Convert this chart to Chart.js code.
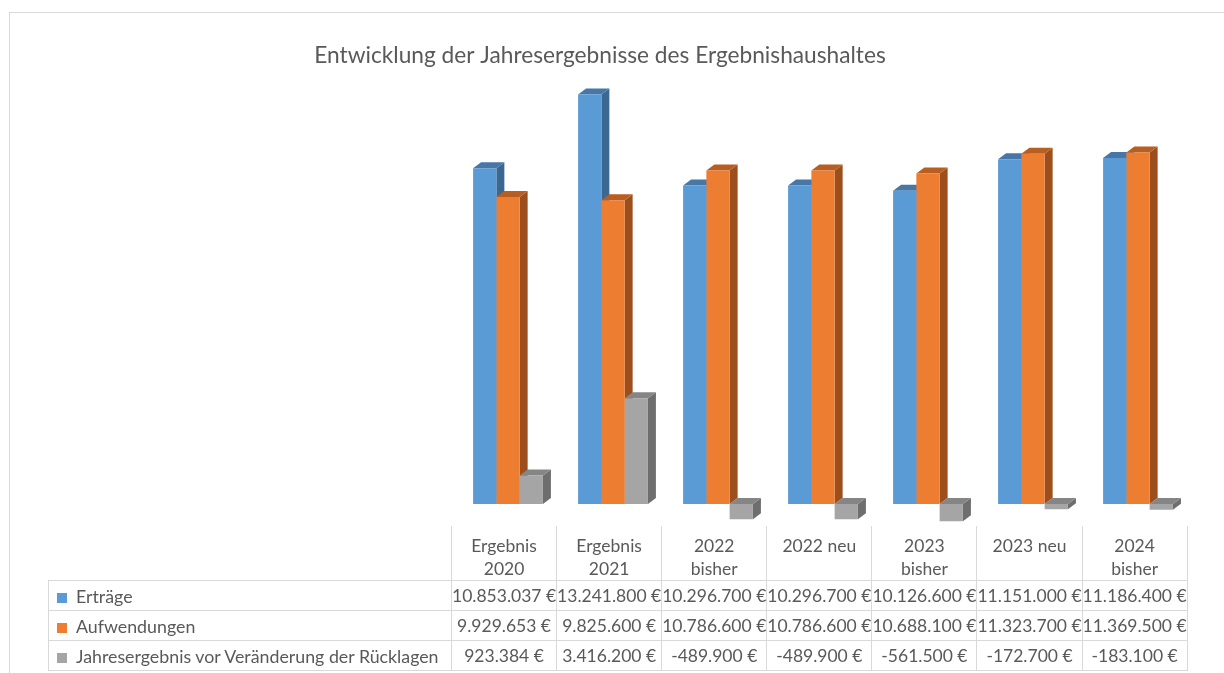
<!DOCTYPE html>
<html>
<head>
<meta charset="utf-8">
<script src="https://cdn.jsdelivr.net/npm/chart.js@4.4.1/dist/chart.umd.min.js"></script>
<style>
  body { margin: 0; background: #fff; }
  #wrap { position: relative; width: 1224px; height: 673px; overflow: hidden; background: #fff; }
  #frame { position: absolute; left: 9px; top: 12px; width: 1214px; height: 720px;
           border-top: 1px solid #d9d9d9; border-left: 1px solid #d9d9d9; }
  #chart { position: absolute; left: 0; top: 0; }
  #tbl { position: absolute; left: 48px; top: 526px; border-collapse: collapse; table-layout: fixed;
         font-family: Lato, "Open Sans", sans-serif; font-size: 17.5px; color: #595959; }
  #tbl td, #tbl th { border: 1px solid #d9d9d9; padding: 0; font-weight: normal; white-space: nowrap; }
  #tbl th { border-top: none; height: 54px; vertical-align: top; line-height: 23px; padding-top: 8px; box-sizing: border-box; }
  #tbl th.blank { border: none; border-right: 1px solid #d9d9d9; }
  #tbl td { height: 29px; }
  #tbl td .c { display: flex; justify-content: center; }
  #tbl td.lab { padding-left: 8px; font-size: 17.8px; }
  .key { display: inline-block; width: 10px; height: 10px; margin-right: 9px; vertical-align: 0px; }
</style>
</head>
<body>
<div id="wrap">
  <div id="frame"></div>
  <canvas id="chart" width="1224" height="673"></canvas>
  <table id="tbl"></table>
</div>
<script>
// Kategorien und Werte
const kategorien = [['Ergebnis', '2020'], ['Ergebnis', '2021'], ['2022', 'bisher'], ['2022 neu'], ['2023', 'bisher'], ['2023 neu'], ['2024', 'bisher']];
const ertraege = [10853037, 13241800, 10296700, 10296700, 10126600, 11151000, 11186400];
const aufwendungen = [9929653, 9825600, 10786600, 10786600, 10688100, 11323700, 11369500];
const jahresergebnis = [923384, 3416200, -489900, -489900, -561500, -172700, -183100];
const serienNamen = ['Erträge', 'Aufwendungen', 'Jahresergebnis vor Veränderung der Rücklagen'];

const farben = ['#5b9bd5', '#ed7d31', '#a5a5a5'];
const seiten = ['#3b6890', '#9c4f1d', '#6e6e6e'];
const deckel = ['#4677a6', '#b85e20', '#858585'];

// 3D look: side and top faces behind the front bars
const DX = 8, DY = 6;
const bar3d = {
  id: 'bar3d',
  beforeDatasetsDraw(chart) {
    const ctx = chart.ctx;
    ctx.save();
    for (let i = 0; i < chart.data.labels.length; i++) {
      chart.data.datasets.forEach((ds, d) => {
        const bar = chart.getDatasetMeta(d).data[i];
        const l = bar.x - bar.width / 2, r = bar.x + bar.width / 2;
        const t = Math.min(bar.y, bar.base), b = Math.max(bar.y, bar.base);
        ctx.fillStyle = seiten[d];
        ctx.beginPath();
        ctx.moveTo(r, t); ctx.lineTo(r + DX, t - DY); ctx.lineTo(r + DX, b - DY); ctx.lineTo(r, b);
        ctx.closePath(); ctx.fill();
        ctx.fillStyle = deckel[d];
        ctx.beginPath();
        ctx.moveTo(l, t); ctx.lineTo(l + DX, t - DY); ctx.lineTo(r + DX, t - DY); ctx.lineTo(r, t);
        ctx.closePath(); ctx.fill();
      });
    }
    ctx.restore();
  }
};

const yMin = -750000, yMax = 14000000;

new Chart(document.getElementById('chart'), {
  type: 'bar',
  data: {
    labels: kategorien,
    datasets: [ertraege, aufwendungen, jahresergebnis].map((werte, d) => ({
      label: serienNamen[d],
      data: werte,
      backgroundColor: farben[d],
      borderWidth: 0,
      categoryPercentage: 0.665,
      barPercentage: 1.0
    }))
  },
  options: {
    responsive: false,
    animation: false,
    layout: { padding: { left: 0, right: 24, top: 0, bottom: 145.8 } },
    plugins: {
      legend: { display: false },
      tooltip: { enabled: false },
      title: {
        display: true,
        text: 'Entwicklung der Jahresergebnisse des Ergebnishaushaltes',
        color: '#595959',
        font: { family: 'Lato', size: 22.7, weight: 'normal' },
        padding: { top: 42, bottom: 1.8 }
      }
    },
    scales: {
      x: { display: false },
      y: {
        min: yMin, max: yMax,
        ticks: { display: false }, grid: { display: false }, border: { display: false },
        afterFit: s => { s.width = 455.5; }
      },
      y2: {
        position: 'right',
        min: yMin, max: yMax,
        ticks: { display: false }, grid: { display: false }, border: { display: false },
        afterFit: s => { s.width = 9.5; }
      }
    }
  },
  plugins: [bar3d]
});

// Datentabelle unter dem Diagramm
function euro(v) {
  const s = Math.abs(v).toString().replace(/\B(?=(\d{3})+(?!\d))/g, '.');
  return (v < 0 ? '-' : '') + s + ' €';
}
let html = '<colgroup><col style="width:403px">' + kategorien.map(() => '<col style="width:105px">').join('') + '</colgroup>';
html += '<tr><th class="blank"></th>' + kategorien.map(k => '<th>' + k.join('<br>') + '</th>').join('') + '</tr>';
[ertraege, aufwendungen, jahresergebnis].forEach((werte, d) => {
  html += '<tr><td class="lab"><span class="key" style="background:' + farben[d] + '"></span>' + serienNamen[d] + '</td>' +
    werte.map(v => '<td><div class="c">' + euro(v) + '</div></td>').join('') + '</tr>';
});
document.getElementById('tbl').innerHTML = html;
</script>
</body>
</html>
